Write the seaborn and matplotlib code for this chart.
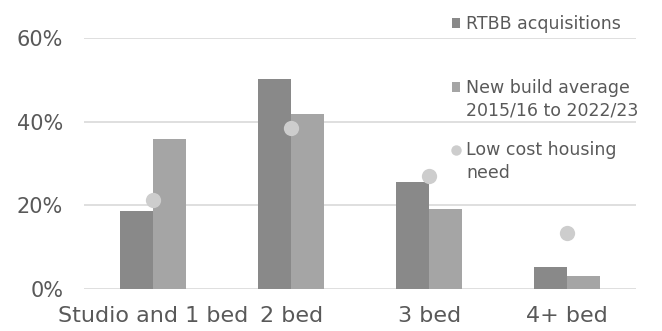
import matplotlib
matplotlib.use("Agg")
import matplotlib.pyplot as plt
import seaborn as sns
import pandas as pd
from matplotlib.patches import Patch
from matplotlib.lines import Line2D

categories = ["Studio and 1 bed", "2 bed", "3 bed", "4+ bed"]
rtbb = [18.6, 50.2, 25.6, 5.3]
new_build = [35.9, 41.8, 19.1, 3.1]
need = [21.3, 38.5, 27.0, 13.4]
series_names = ["RTBB acquisitions", "New build average\n2015/16 to 2022/23"]
need_name = "Low cost housing\nneed"
yticks = [0, 20, 40, 60]

c_dark = "#898989"
c_light = "#a5a5a5"
c_dot = "#cdcdcd"
txt = "#595959"

sns.set_theme(style="white")
plt.rcParams["font.family"] = ["DejaVu Sans"]

df = pd.DataFrame({
    "cat": categories * 2,
    "val": rtbb + new_build,
    "series": [series_names[0]] * 4 + [series_names[1]] * 4,
})

fig = plt.figure(figsize=(6.62, 3.31), dpi=100)
ax = fig.add_axes([0.127, 0.127, 0.834, 0.758])
sns.barplot(data=df, x="cat", y="val", hue="series", order=categories,
            hue_order=series_names, palette=[c_dark, c_light], width=0.48,
            gap=0, saturation=1, ax=ax, legend=False, zorder=2, linewidth=0)
sns.stripplot(x=categories, y=need, jitter=False, color=c_dot, size=11,
              ax=ax, zorder=3, linewidth=0)
ax.set_ylim(0, 60)
ax.set_xlim(-0.5, 3.5)
ax.set_yticks(yticks)
ax.set_yticklabels([f"{v}%" for v in yticks])
ax.yaxis.grid(True, color="#d9d9d9", linewidth=1.2, zorder=0)
ax.set_axisbelow(True)
for s in ax.spines.values():
    s.set_visible(False)
ax.set_xlabel("")
ax.set_ylabel("")
ax.tick_params(axis="y", length=0, pad=15, labelsize=15, labelcolor=txt)
ax.tick_params(axis="x", length=0, pad=12, labelsize=16, labelcolor=txt)

fs = 12.5
entries = [
    (Patch(facecolor=c_dark, linewidth=0, label=series_names[0]), 1 - 24 / 331, False),
    (Patch(facecolor=c_light, linewidth=0, label=series_names[1]), 1 - 99 / 331, True),
    (Line2D([], [], marker="o", linestyle="none", markersize=7.5,
            markerfacecolor=c_dot, markeredgewidth=0, label=need_name),
     1 - 161.5 / 331, True),
]
for h, yc, multi in entries:
    leg = fig.legend(handles=[h], loc="center left", bbox_to_anchor=(0.683, yc),
                     frameon=False, fontsize=fs, labelcolor=txt,
                     handlelength=0.48, handleheight=0.48, handletextpad=0.33,
                     borderaxespad=0, borderpad=0)
    for t in leg.get_texts():
        t.set_linespacing(1.33)
    if multi:
        lh = leg.legend_handles[0]
        shift = 9.0
        if isinstance(lh, Patch):
            lh.set_y(lh.get_y() + shift)
        else:
            lh.set_ydata([y + shift for y in lh.get_ydata()])

fig.savefig("out.png", dpi=100)
